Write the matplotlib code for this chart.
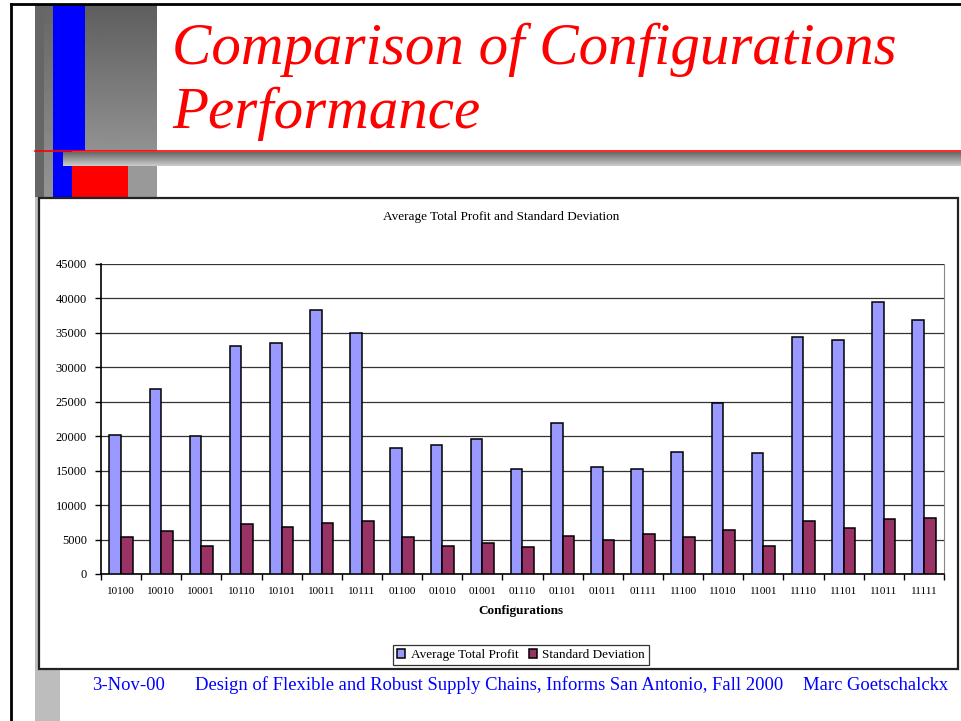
import numpy as np
import matplotlib
matplotlib.use("Agg")
import matplotlib.pyplot as plt
from matplotlib.patches import Rectangle

# ---- data ----
configs = ["10100", "10010", "10001", "10110", "10101", "10011", "10111",
           "01100", "01010", "01001", "01110", "01101", "01011", "01111",
           "11100", "11010", "11001", "11110", "11101", "11011", "11111"]
avg_profit = [20200, 26900, 20100, 33150, 33600, 38350, 35050,
              18350, 18750, 19600, 15200, 21900, 15600, 15200,
              17700, 24800, 17550, 34400, 34000, 39450, 36900]
std_dev = [5400, 6250, 4100, 7250, 6850, 7450, 7700,
           5400, 4100, 4550, 3950, 5550, 5000, 5800,
           5400, 6450, 4100, 7700, 6650, 7950, 8100]
y_ticks = list(range(0, 45001, 5000))

SERIF = "Liberation Serif"
W, H = 962, 721

fig = plt.figure(figsize=(W / 100, H / 100), dpi=100)

# background axes in pixel coordinates (y down)
bg = fig.add_axes([0, 0, 1, 1])
bg.set_xlim(0, W)
bg.set_ylim(H, 0)
bg.axis("off")


def vgrad(x0, x1, y0, y1, top, bottom, z=1):
    g = np.linspace(top, bottom, 64).reshape(-1, 1)
    bg.imshow(g, extent=(x0, x1, y1, y0), cmap="gray", vmin=0, vmax=1,
              aspect="auto", origin="upper", zorder=z, interpolation="bilinear")


def rect(x0, y0, x1, y1, color, z=2, **kw):
    bg.add_patch(Rectangle((x0, y0), x1 - x0, y1 - y0, facecolor=color,
                           edgecolor="none", zorder=z, **kw))


# outer frame lines
bg.plot([11.5, 11.5], [4, H], color="black", lw=2, zorder=5)
bg.plot([11.5, W], [4, 4], color="black", lw=2, zorder=5)

# left decoration
rect(35, 4, 60, H, "#bdbdbd", z=1)
rect(35, 4, 44, 197, "#666666")
vgrad(44, 53, 4, 197, 0.40, 0.58, z=2)
vgrad(85, 157, 4, 151, 0.37, 0.57, z=2)
rect(128, 166, 157, 197, "#999999", z=2)
rect(53, 4, 85, 151, "#0000ff", z=3)
rect(53, 151, 72, 197, "#0000ff", z=3)
rect(72, 166, 128, 197, "#ff0000", z=3)
vgrad(63, W, 152, 166, 0.40, 0.80, z=3)
bg.plot([35, W], [151, 151], color="#ff0000", lw=1.2, zorder=4)

# chart box
bg.add_patch(Rectangle((39, 198), 919, 471, facecolor="white",
                       edgecolor="#222222", lw=1.6, zorder=4))

# slide title
bg.text(172, 64, "Comparison of Configurations", color="#ff0000",
        fontsize=42.5, family=SERIF, style="italic", va="baseline", zorder=6)
bg.text(172, 128, "Performance", color="#ff0000",
        fontsize=42.5, family=SERIF, style="italic", va="baseline", zorder=6)

# footer
foot = dict(color="#0000ff", fontsize=13.4, family=SERIF, va="baseline", zorder=6)
bg.text(92, 690, "3-Nov-00", **foot)
bg.text(195, 690, "Design of Flexible and Robust Supply Chains, Informs San Antonio, Fall 2000", **foot)
bg.text(948, 690, "Marc Goetschalckx", ha="right", **foot)

# chart texts
bg.text(501, 217, "Average Total Profit and Standard Deviation", ha="center",
        va="center", fontsize=9.5, family=SERIF, zorder=6)
bg.text(521, 611, "Configurations", ha="center", va="center", fontsize=9.5,
        family=SERIF, weight="bold", zorder=6)

# ---- bar chart ----
ax = fig.add_axes([101 / W, 1 - 574 / H, 843 / W, 310 / H])
ax.set_facecolor("none")
ax.set_zorder(7)

x = np.arange(len(configs))
bw = 0.29
ax.bar(x - bw / 2, avg_profit, bw, color="#9999ff", edgecolor="black",
       lw=1.1, label="Average Total Profit", zorder=3)
ax.bar(x + bw / 2, std_dev, bw, color="#993366", edgecolor="black",
       lw=1.1, label="Standard Deviation", zorder=3)

ax.set_xlim(-0.5, len(configs) - 0.5)
ax.set_ylim(0, 45000)
ax.set_yticks(y_ticks)
ax.set_yticklabels([str(v) for v in y_ticks], family=SERIF, fontsize=9)
ax.set_xticks(x)
ax.set_xticklabels(configs, family=SERIF, fontsize=8)
ax.set_xticks(np.arange(-0.5, len(configs)), minor=True)
ax.tick_params(axis="x", which="major", length=0, pad=9)
ax.tick_params(axis="x", which="minor", length=4, width=1, direction="out")
ax.tick_params(axis="y", length=4, width=1, direction="out", pad=6)
ax.grid(axis="y", color="#333333", lw=0.9, zorder=0)

ax.spines["top"].set_visible(False)
ax.spines["right"].set_color("#888888")
ax.spines["left"].set_linewidth(1.2)
ax.spines["bottom"].set_linewidth(1.2)

leg = fig.legend(loc="center", bbox_to_anchor=(521 / W, 1 - 655 / H), ncol=2,
                 prop={"family": SERIF, "size": 9.5}, frameon=True, fancybox=False,
                 handlelength=0.6, handleheight=0.6, handletextpad=0.4,
                 columnspacing=0.8, borderpad=0.3)
leg.get_frame().set_edgecolor("black")
leg.get_frame().set_linewidth(0.9)
leg.set_zorder(8)

fig.savefig("out.png", dpi=100)
